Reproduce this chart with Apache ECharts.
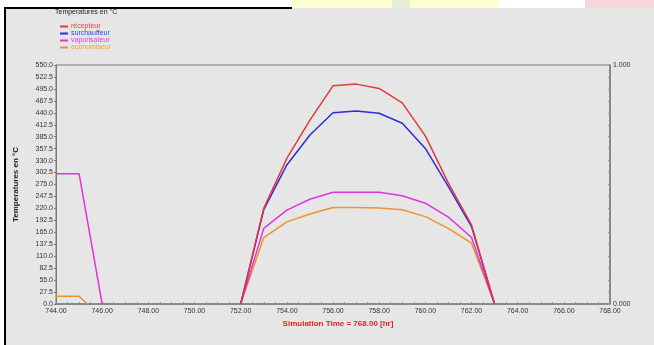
<!DOCTYPE html>
<html>
<head>
<meta charset="utf-8">
<script src="https://cdn.jsdelivr.net/npm/echarts@6/dist/echarts.min.js"></script>
<style>
  html, body { margin: 0; padding: 0; background: #ffffff; }
  #chart { width: 654px; height: 345px; }
</style>
</head>
<body>
<div id="chart"></div>
<script>
// Simulation hours of the daytime operating window
const dayHours = [752, 753, 754, 755, 756, 757, 758, 759, 760, 761, 762, 763];

// Temperatures (°C) for each exchanger during the day
const recepteur    = [0, 220, 335, 423, 502, 506, 496, 463, 387, 278, 182, 0];
const surchauffeur = [0, 217, 320, 389, 440, 444, 439, 416, 358, 270, 178, 0];
const vaporisateur = [0, 174, 216, 241, 257, 257, 257, 249, 232, 200, 153, 0];
const economiseur  = [0, 153, 189, 207, 222, 222, 221, 217, 201, 174, 140, 0];

// Cool-down at the start of the period
const vaporisateurStartHours = [744, 745, 746];
const vaporisateurStart      = [300, 300, 0];
const economiseurStartHours  = [744, 745, 745.35];
const economiseurStart       = [18, 18, 0];

const seriesNames  = ['récepteur', 'surchauffeur', 'vaporisateur', 'economiseur'];
const seriesColors = ['#e23a3a', '#2c2ce0', '#e232e2', '#ee9428'];
const legendColors = ['#ee3a3a', '#3a3aee', '#e040e0', '#f0a040'];

const yTicks = { min: 0, max: 550, step: 27.5 };
const xTicks = { min: 744, max: 768, step: 0.5, labelEvery: 2 };

function pairs(xs, ys) {
  return xs.map((x, i) => [x, ys[i]]);
}

const dataSets = [
  pairs(dayHours, recepteur),
  pairs(dayHours, surchauffeur),
  pairs(vaporisateurStartHours, vaporisateurStart).concat([[749, '-']], pairs(dayHours, vaporisateur)),
  pairs(economiseurStartHours, economiseurStart).concat([[749, '-']], pairs(dayHours, economiseur))
];

const chart = echarts.init(document.getElementById('chart'));
const font = 'Liberation Sans, Arial, sans-serif';

chart.setOption({
  animation: false,
  backgroundColor: '#ffffff',
  textStyle: { fontFamily: font },
  graphic: [
    { type: 'rect', z: -10, shape: { x: 5, y: 8, width: 650, height: 340 }, style: { fill: '#e6e6e6' } },
    { type: 'rect', z: -9, shape: { x: 292, y: 0, width: 100, height: 8 }, style: { fill: '#fdfdd2' } },
    { type: 'rect', z: -9, shape: { x: 392, y: 0, width: 18, height: 8 }, style: { fill: '#e4eed2' } },
    { type: 'rect', z: -9, shape: { x: 410, y: 0, width: 88, height: 8 }, style: { fill: '#fdfdd2' } },
    { type: 'rect', z: -9, shape: { x: 585, y: 0, width: 69, height: 8 }, style: { fill: '#f7d6dc' } },
    { type: 'rect', z: -8, shape: { x: 4, y: 7, width: 2, height: 340 }, style: { fill: '#000000' } },
    { type: 'rect', z: -8, shape: { x: 4, y: 7, width: 288, height: 2 }, style: { fill: '#000000' } },
    { type: 'text', left: 55, top: 9, style: { text: 'Temperatures en °C', fill: '#222', font: '7px ' + font } }
  ],
  legend: {
    orient: 'vertical',
    left: 55,
    top: 18,
    itemWidth: 8,
    itemHeight: 2,
    itemGap: 0,
    icon: 'rect',
    textStyle: { fontSize: 7, fontFamily: font, padding: [0, 0, 0, -2] },
    data: seriesNames.map((n, i) => ({ name: n, textStyle: { color: legendColors[i] } }))
  },
  grid: {
    left: 56, right: 44, top: 65, bottom: 41,
    show: true, borderColor: '#7a7a7a', borderWidth: 1, backgroundColor: 'transparent'
  },
  xAxis: {
    type: 'value',
    min: xTicks.min, max: xTicks.max, interval: xTicks.step,
    name: 'Simulation Time = 768.00 [hr]',
    nameLocation: 'middle', nameGap: 14,
    nameTextStyle: { color: '#ee1c1c', fontWeight: 'bold', fontSize: 8, fontFamily: font, padding: [0, 0, 0, 10] },
    axisLine: { onZero: false, lineStyle: { color: '#8a8a8a', width: 2 } },
    axisTick: { inside: true, length: 2, lineStyle: { color: '#8a8a8a' } },
    axisLabel: {
      fontSize: 7, color: '#333', margin: 4, showMaxLabel: true, showMinLabel: true,
      formatter: v => (Math.abs((v - xTicks.min) % xTicks.labelEvery) < 1e-6 ? v.toFixed(2) : '')
    },
    splitLine: { show: false }
  },
  yAxis: [
    {
      type: 'value',
      min: yTicks.min, max: yTicks.max, interval: yTicks.step,
      name: 'Temperatures en °C',
      nameLocation: 'middle', nameGap: 36, nameRotate: 90,
      nameTextStyle: { color: '#222', fontWeight: 'bold', fontSize: 8, fontFamily: font },
      axisLine: { show: true, lineStyle: { color: '#7a7a7a', width: 1 } },
      axisTick: { show: true, inside: false, length: 2, lineStyle: { color: '#7a7a7a' } },
      axisLabel: { fontSize: 7, color: '#333', margin: 3, formatter: v => v.toFixed(1) },
      splitLine: { show: false }
    },
    {
      type: 'value', position: 'right',
      min: 0, max: 1, interval: 0.05,
      axisLine: { show: true, lineStyle: { color: '#7a7a7a', width: 1.5 } },
      axisTick: { show: true, inside: true, length: 2, lineStyle: { color: '#9a9a9a' } },
      axisLabel: {
        fontSize: 7, color: '#333', margin: 3,
        formatter: v => (v === 0 || v === 1 ? v.toFixed(3) : '')
      },
      splitLine: { show: false }
    }
  ],
  series: seriesNames.map((n, i) => ({
    name: n,
    type: 'line',
    data: dataSets[i],
    symbol: 'none',
    connectNulls: false,
    color: seriesColors[i],
    lineStyle: { width: 1.5, color: seriesColors[i] },
    z: 10 - i
  }))
});
</script>
</body>
</html>
